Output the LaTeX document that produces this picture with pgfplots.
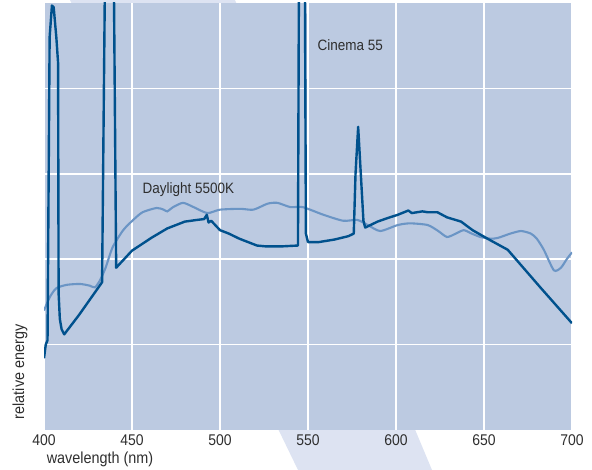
\documentclass[border=0pt]{standalone}
\usepackage{fontspec}
\setmainfont[FakeStretch=0.9]{Liberation Sans}
\usepackage{pgfplots}
\pgfplotsset{compat=1.18}
\definecolor{bgplot}{HTML}{BCCAE1}
\definecolor{band}{HTML}{DDE3F2}
\definecolor{darkline}{HTML}{00518D}
\definecolor{lightline}{HTML}{6B95C5}
\definecolor{txt}{HTML}{2E2E2E}
\begin{document}
\begin{tikzpicture}
\useasboundingbox (-44bp,-40bp) rectangle (548bp,430bp);
\fill[band] (26bp,430bp) -- (191bp,430bp) -- (388bp,-40bp) -- (254bp,-40bp) -- cycle;
\begin{axis}[
  at={(0,0)}, anchor=south west,
  scale only axis, width=528bp, height=427bp,
  xmin=400, xmax=700, ymin=0, ymax=5,
  xtick={400,450,...,700}, ytick={1,2,3,4},
  yticklabels={},
  axis background/.style={fill=bgplot},
  axis line style={draw=none},
  major tick length=0pt,
  grid=major,
  major grid style={white, line width=1.6bp},
  /pgf/number format/assume math mode=true,
  /pgf/number format/set thousands separator={},
  xticklabel style={font=\fontsize{15.5bp}{17bp}\selectfont, text=txt, inner sep=0pt, yshift=-4bp},
  xlabel={wavelength (nm)},
  xlabel style={font=\fontsize{16bp}{18bp}\selectfont, text=txt, at={(axis description cs:0.005,-0.068)}, anchor=west, inner sep=0pt},
  ylabel={relative energy},
  ylabel style={font=\fontsize{16bp}{18bp}\selectfont, text=txt, at={(axis description cs:-0.0455,0.136)}, anchor=center, inner sep=0pt},
  clip=true,
]
\addplot[lightline, line width=2.1bp, smooth, tension=0.4] coordinates {
(400,1.40) (403.4,1.56) (407,1.66) (413,1.70) (420.5,1.71) (426,1.69) (429,1.67)
(432,1.76) (435,1.90) (439,2.14) (445,2.34) (450.7,2.46) (456,2.55) (464,2.60)
(468,2.58) (470,2.56) (473.4,2.61) (479,2.66) (485,2.61) (492.8,2.54) (500,2.58)
(511.5,2.59) (519,2.58) (527,2.65) (532.6,2.66) (540,2.61) (547,2.61) (558.8,2.52)
(570,2.45) (578,2.46) (584,2.40) (591,2.33) (601,2.40) (608,2.42) (618,2.40)
(624,2.33) (629,2.26) (634,2.30) (638.5,2.34) (643,2.30) (648,2.26) (654,2.24)
(658,2.25) (665,2.30) (671,2.33) (676.6,2.30) (680,2.24) (684,2.11) (689.7,1.87)
(693.7,1.90) (697,2.00) (700,2.08)
};
\addplot[darkline, line width=2.4bp, line join=round] coordinates {
(400,0.84) (401,1.0) (402,1.05) (403.2,4.6) (404.5,4.97) (405.5,4.95) (407,4.6)
(408,4.3) (408.3,1.6) (409,1.3) (410,1.18) (411.5,1.12) (420,1.35) (433,1.73)
(434.5,5) (435,6) (439,6) (439.8,5) (441,1.9) (450,2.1) (461,2.25) (470,2.36)
(480,2.44) (487,2.46) (491,2.47) (492.5,2.52) (493.5,2.43) (495,2.45) (500,2.34)
(505,2.30) (511,2.24) (516,2.20) (521,2.16) (526,2.15) (535,2.15) (544.3,2.16)
(544.8,5) (545.3,6) (547.8,6) (548.3,5) (548.8,2.3) (550,2.2) (556,2.2) (565,2.23)
(573,2.27) (576,2.30) (577,3.0) (578.5,3.55) (580,3.0) (581.5,2.45) (582.5,2.37)
(589.5,2.44) (595,2.48) (601,2.52) (607,2.57) (609,2.54) (612,2.55) (615,2.56)
(618,2.55) (623.5,2.55) (629,2.49) (637,2.44) (643.5,2.34) (652,2.24) (663.5,2.11)
(682,1.67) (700,1.25)
};
\node[font=\fontsize{15bp}{17bp}\selectfont, text=txt] at (axis cs:574,4.51) {Cinema 55};
\node[font=\fontsize{15bp}{17bp}\selectfont, text=txt] at (axis cs:482,2.81) {Daylight 5500K};
\end{axis}
\end{tikzpicture}
\end{document}
